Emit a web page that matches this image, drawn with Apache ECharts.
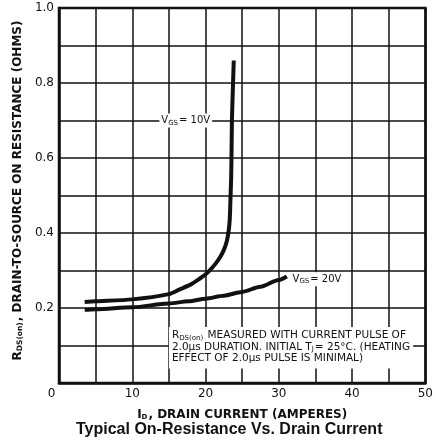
<!DOCTYPE html>
<html>
<head>
<meta charset="utf-8">
<script src="https://cdn.jsdelivr.net/npm/echarts@6/dist/echarts.min.js"></script>
<style>
  html, body { margin: 0; padding: 0; background: #fff; }
  #chart { width: 436px; height: 442px; }
</style>
</head>
<body>
<div id="chart"></div>
<script>
// Drain current (A) and on-resistance (ohms) for each gate voltage
const vgs10Current    = [3.5, 5, 10, 15, 16.4, 18, 19.1, 19.9, 20.7, 21.4, 22.0, 22.5, 22.9, 23.15, 23.3, 23.4, 23.5, 23.55, 23.6, 23.72, 23.85];
const vgs10Resistance = [0.216, 0.218, 0.223, 0.237, 0.249, 0.263, 0.277, 0.288, 0.303, 0.319, 0.336, 0.355, 0.378, 0.405, 0.435, 0.49, 0.55, 0.62, 0.70, 0.78, 0.86];

const vgs20Current    = [3.5, 5, 10, 15, 17.7, 20, 22.5, 25, 27.5, 30, 31.1];
const vgs20Resistance = [0.195, 0.197, 0.202, 0.212, 0.218, 0.225, 0.233, 0.243, 0.257, 0.275, 0.284];

// Axis tick labels
const xTickLabels = [0, 10, 20, 30, 40, 50];
const yTickLabels = ['0.2', '0.4', '0.6', '0.8', '1.0'];

// Annotation anchors (data coordinates)
const vgs10LabelAt = [17.3, 0.70];
const vgs20LabelAt = [31.6, 0.277];
const noteAt = [15.0, 0.094];

const SANS = '"DejaVu Sans", Verdana, sans-serif';
const TITLE_FONT = '"Liberation Sans", Arial, Helvetica, sans-serif';
const INK = '#111';
const pair = (xs, ys) => xs.map((x, i) => [x, ys[i]]);

const subStyle = { fontSize: 7, fontFamily: SANS, color: INK, verticalAlign: 'bottom', padding: [5, 1, 0, 0] };
const boldName = { fontFamily: SANS, fontWeight: 'bold', color: INK };

const chart = echarts.init(document.getElementById('chart'), null, { renderer: 'canvas' });

chart.setOption({
  backgroundColor: '#fff',
  animation: false,
  title: {
    text: 'Typical On-Resistance Vs. Drain Current',
    left: 76,
    top: 422,
    padding: 0,
    textStyle: { fontFamily: TITLE_FONT, fontWeight: 'bold', fontSize: 16, color: INK }
  },
  grid: {
    left: 59, right: 8, top: 8, bottom: 59,
    show: true, borderColor: INK, borderWidth: 2.5, backgroundColor: '#fff'
  },
  xAxis: {
    type: 'value',
    min: 0, max: 50, interval: 5,
    name: '{b|I}{s|D}{b|, DRAIN CURRENT (AMPERES)}',
    nameLocation: 'middle',
    nameGap: 26,
    nameTextStyle: {
      rich: {
        b: Object.assign({ fontSize: 12 }, boldName),
        s: Object.assign({}, subStyle, { fontWeight: 'bold' })
      }
    },
    axisLine: { show: true, lineStyle: { color: INK, width: 2.5 } },
    axisTick: { show: false },
    splitLine: { show: true, lineStyle: { color: INK, width: 1.5 } },
    axisLabel: {
      margin: 5,
      fontFamily: SANS, fontSize: 12, color: INK,
      formatter: v => {
        const k = xTickLabels.indexOf(Math.round(v));
        if (k < 0 || Math.abs(v - Math.round(v)) > 1e-6) return '';
        return k === 0 ? '{z|' + xTickLabels[k] + '}' : String(xTickLabels[k]);
      },
      rich: { z: { fontFamily: SANS, fontSize: 12, color: INK, padding: [0, 15, 0, 0] } }
    }
  },
  yAxis: {
    type: 'value',
    min: 0, max: 1, interval: 0.1,
    name: '{b|R}{s|DS(on)}{b|, DRAIN-TO-SOURCE ON RESISTANCE (OHMS)}',
    nameLocation: 'middle',
    nameGap: 33,
    nameRotate: 90,
    nameTextStyle: {
      padding: [0, 0, 0, 10],
      rich: {
        b: Object.assign({ fontSize: 12 }, boldName),
        s: Object.assign({}, subStyle, { fontWeight: 'bold', fontSize: 7.5 })
      }
    },
    axisLine: { show: true, lineStyle: { color: INK, width: 2.5 } },
    axisTick: { show: false },
    splitLine: { show: true, lineStyle: { color: INK, width: 1.5 } },
    axisLabel: {
      margin: 5,
      fontFamily: SANS, fontSize: 12, color: INK,
      formatter: v => {
        const t = (Math.round(v * 10) / 10).toFixed(1);
        return yTickLabels.indexOf(t) >= 0 ? t : '';
      }
    }
  },
  series: [
    {
      name: 'VGS = 10V',
      type: 'line',
      data: pair(vgs10Current, vgs10Resistance),
      smooth: 0.25,
      showSymbol: false,
      symbol: 'none',
      lineStyle: { color: INK, width: 4, join: 'round', cap: 'butt' },
      z: 3,
      markPoint: {
        symbol: 'rect', symbolSize: 0, silent: true,
        data: [{
          coord: vgs10LabelAt,
          label: {
            show: true, position: 'inside',
            formatter: '{a|V}{s|GS}{a|= 10V}',
            backgroundColor: '#fff', padding: [1, 2, 1, 2],
            rich: {
              a: { fontFamily: SANS, fontSize: 10, color: INK },
              s: subStyle
            }
          }
        }]
      }
    },
    {
      name: 'VGS = 20V',
      type: 'line',
      data: pair(vgs20Current, vgs20Resistance),
      smooth: 0.3,
      smoothMonotone: 'x',
      showSymbol: false,
      symbol: 'none',
      lineStyle: { color: INK, width: 4, join: 'round' },
      z: 3,
      markPoint: {
        symbol: 'rect', symbolSize: 0, silent: true,
        data: [
          {
            coord: vgs20LabelAt,
            label: {
              show: true, position: 'right', distance: 0,
              formatter: '{a|V}{s|GS}{a|= 20V}',
              backgroundColor: '#fff', padding: [1, 2, 1, 2],
              rich: {
                a: { fontFamily: SANS, fontSize: 10, color: INK },
                s: subStyle
              }
            }
          },
          {
            coord: noteAt,
            label: {
              show: true, position: 'right', distance: 0,
              formatter: [
                '{a|R}{s|DS(on)}{a| MEASURED WITH CURRENT PULSE OF}',
                '{a|2.0µs DURATION. INITIAL T}{s|J}{a|= 25°C. (HEATING}',
                '{a|EFFECT OF 2.0µs PULSE IS MINIMAL)}'
              ].join('\n'),
              backgroundColor: '#fff', padding: [3, 3, 4, 3],
              lineHeight: 11.5,
              rich: {
                a: { fontFamily: SANS, fontSize: 10.5, color: INK, lineHeight: 11.5 },
                s: Object.assign({}, subStyle, { lineHeight: 11.5 })
              }
            }
          }
        ]
      }
    }
  ]
});
</script>
</body>
</html>
